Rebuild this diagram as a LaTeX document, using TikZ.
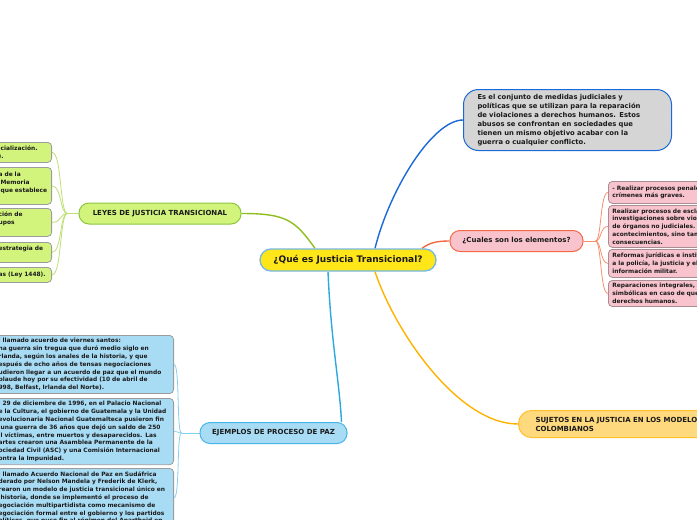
\documentclass[tikz,border=0pt]{standalone}
\usepackage{fontspec}
\setmainfont{DejaVu Sans}
\usepackage{tikz}
\usetikzlibrary{positioning,calc,backgrounds}
\definecolor{rootyellow}{HTML}{FFE619}
\definecolor{rootedge}{HTML}{74B8E2}
\definecolor{defgray}{HTML}{D5D5D5}
\definecolor{defblue}{HTML}{1B68D8}
\definecolor{elempink}{HTML}{F8C3CD}
\definecolor{elemred}{HTML}{F26943}
\definecolor{elemtwig}{HTML}{F4916F}
\definecolor{elemgray}{HTML}{A88E94}
\definecolor{sujfill}{HTML}{FFD97E}
\definecolor{sujedge}{HTML}{FFC02A}
\definecolor{sujline}{HTML}{FFB300}
\definecolor{leyfill}{HTML}{D2F47C}
\definecolor{leyedge}{HTML}{8CC63E}
\definecolor{leyline}{HTML}{8DBE1E}
\definecolor{leytwig}{HTML}{BEDF74}
\definecolor{ejfill}{HTML}{A8DCF5}
\definecolor{ejedge}{HTML}{46B5EA}
\definecolor{ejline}{HTML}{2AA9E0}
\definecolor{ejtwig}{HTML}{86CEF0}
\definecolor{boxgray}{HTML}{9C9C9C}
\definecolor{inkdark}{HTML}{1A1A1A}
\tikzset{
  % topics on the map
  topic/.style={rounded corners=10pt, line width=1pt, inner sep=0pt, text=inkdark,
    font=\fontsize{7}{9}\selectfont\bfseries},
  root/.style={topic, fill=rootyellow, draw=rootedge, line width=1.3pt, rounded corners=11pt,
    minimum width=176, minimum height=22, font=\fontsize{9}{11}\selectfont\bfseries},
  defbox/.style={draw=defblue, fill=defgray, line width=1pt, rounded corners=15pt,
    text width=180, inner xsep=14, inner ysep=0, minimum height=61, align=left,
    text=inkdark, font=\fontsize{6.8}{8.9}\selectfont\bfseries},
  % the small text boxes
  leaf/.style={draw=boxgray, line width=0.8pt, rounded corners=4pt, inner xsep=3, inner ysep=3,
    align=left, text=inkdark, font=\fontsize{5.9}{7.8}\selectfont\bfseries},
  branch/.style={line width=1.4pt},
  twig/.style={line width=0.8pt},
}
\begin{document}
\begin{tikzpicture}[x=1pt,y=-1pt]
  \useasboundingbox (0,0) rectangle (697,520);
  \clip (0,0) rectangle (697,520);
  % central topic and the definition
  \node[root] (qjt) at (348,260) {¿Qué es Justicia Transicional?};
  \node[defbox, anchor=north west] (defn) at (463,89)
    {Es el conjunto de medidas judiciales y\\
     políticas que se utilizan para la reparación\\
     de violaciones a derechos humanos. Estos\\
     abusos se confrontan en sociedades que\\
     tienen un mismo objetivo acabar con la\\
     guerra o cualquier conflicto.};
  % elements
  \node[topic, fill=elempink, draw=elemred, minimum width=133, minimum height=21] (elem)
    at (516.5,241) {¿Cuales son los elementos?};
  \foreach \i/\y/\h/\t in {
      1/181/22/{- Realizar procesos penales\\crímenes más graves.},
      2/205/42/{Realizar procesos de esclar\\investigaciones sobre violac\\de órganos no judiciales. S\\acontecimientos, sino tamb\\consecuencias.},
      3/249/28/{Reformas jurídicas e institu\\a la policía, la justicia y el e\\información militar.},
      4/280/25/{Reparaciones integrales, co\\simbólicas en caso de que e\\derechos humanos.}} {
    \node[leaf, fill=elempink, draw=elemgray, text width=120, inner xsep=4, minimum height=\h,
          anchor=north west] (elem\i) at (608,\y) {\t};
  }
  % subjects
  \node[topic, fill=sujfill, draw=sujedge, anchor=north west, text width=220, align=left,
        inner xsep=17, minimum height=27, rounded corners=13pt] (suj) at (518,410)
    {SUJETOS EN LA JUSTICIA EN LOS MODELOS\\COLOMBIANOS};
  % laws
  \node[topic, fill=leyfill, draw=leyedge, minimum width=162, minimum height=21] (leyes)
    at (160,213.5) {LEYES DE JUSTICIA TRANSICIONAL};
  \foreach \i/\y/\h/\t in {
      1/142/20/{icialización.\\).},
      2/167/37/{a de la\\\hspace*{2pt}Memoria\\\hspace*{2pt}que establece\\\mbox{}},
      3/208/28/{ción de\\upos\\\mbox{}},
      4/242/20/{estrategia de\\\mbox{}},
      5/267/15/{as (Ley 1448).}} {
    \node[leaf, fill=leyfill, text width=50, minimum height=\h, anchor=north east]
      (ley\i) at (52,\y) {\t};
  }
  % peace processes
  \node[topic, fill=ejfill, draw=ejedge, minimum width=147, minimum height=21] (ejem)
    at (273.5,433) {EJEMPLOS DE PROCESO DE PAZ};
  \foreach \i/\y/\h/\t in {
      1/335/58/{l llamado acuerdo de viernes santos:\\na guerra sin tregua que duró medio siglo en\\rlanda, según los anales de la historia, y que\\espués de ocho años de tensas negociaciones\\udieron llegar a un acuerdo de paz que el mundo\\plaude hoy por su efectividad (10 de abril de\\998, Belfast, Irlanda del Norte).},
      2/398/66/{l 29 de diciembre de 1996, en el Palacio Nacional\\e la Cultura, el gobierno de Guatemala y la Unidad\\evolucionaria Nacional Guatemalteca pusieron fin\\\hspace*{2pt}una guerra de 36 años que dejó un saldo de 250\\il víctimas, entre muertos y desaparecidos. Las\\artes crearon una Asamblea Permanente de la\\ociedad Civil (ASC) y una Comisión Internacional\\ontra la Impunidad.},
      3/468/20/{l llamado Acuerdo Nacional de Paz en Sudáfrica\\derado por Nelson Mandela y Frederik de Klerk,\\rearon un modelo de justicia transicional único en\\\hspace*{2pt}historia, donde se implementó el proceso de\\egociación multipartidista como mecanismo de\\egociación formal entre el gobierno y los partidos\\olíticos, que puso fin al régimen del Apartheid en}} {
    \node[leaf, fill=ejfill, text width=172, minimum height=\h, anchor=north east]
      (ej\i) at (174,\y) {\t};
  }
  % connectors
  \begin{scope}[on background layer]
    \draw[branch, leyline] ([xshift=-33]qjt.north) .. controls +(-20,-28) and +(45,0) .. (leyes.east);
    \draw[branch, defblue] ([xshift=27]qjt.north) .. controls +(15,-60) and +(-30,0) .. (defn.west);
    \draw[branch, elemred] ([xshift=74]qjt.north) .. controls +(8,-6) and +(-12,0) .. (elem.west);
    \draw[branch, sujline] ([xshift=27]qjt.south) .. controls +(20,60) and +(-60,0) .. (suj.west);
    \draw[branch, ejline] ([xshift=-20]qjt.south) .. controls +(3,70) and +(-2,-40) .. ([xshift=-6]ejem.north east);
    % forks to the boxes
    \coordinate (pfork) at ([xshift=12]elem.east);
    \draw[twig, elemtwig] (elem.east) -- (pfork);
    \foreach \i in {1,...,4}
      \draw[twig, elemtwig] (pfork) .. controls +(6,0) and +(-8,0) .. (elem\i.west);
    \coordinate (lfork) at ([xshift=-11]leyes.west);
    \draw[twig, leytwig] (leyes.west) -- (lfork);
    \foreach \i in {1,...,5}
      \draw[twig, leytwig] (lfork) .. controls +(-8,0) and +(10,0) .. (ley\i.east);
    \coordinate (bfork) at ([xshift=-18]ejem.west);
    \draw[twig, ejtwig] (ejem.west) -- (bfork);
    \foreach \i in {1,...,3}
      \draw[twig, ejtwig] (bfork) .. controls +(-5,0) and +(6,0) .. (ej\i.east);
  \end{scope}
\end{tikzpicture}
\end{document}
